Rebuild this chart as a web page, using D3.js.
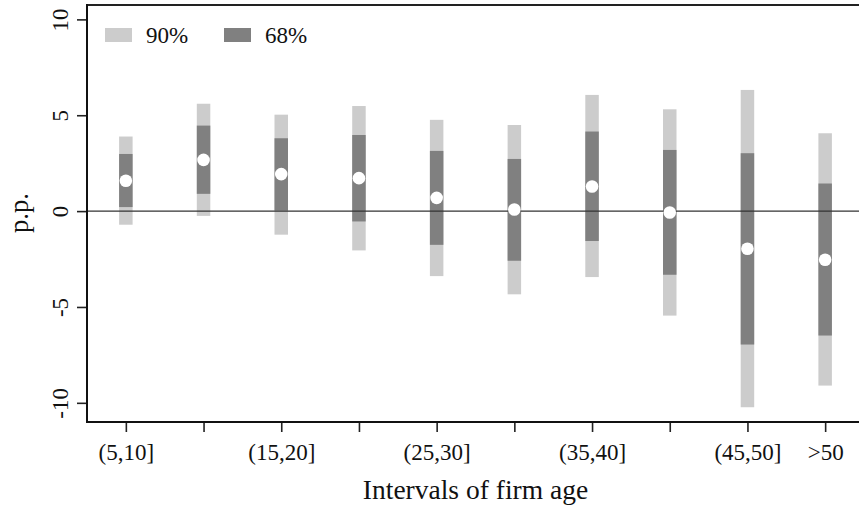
<!DOCTYPE html>
<html>
<head>
<meta charset="utf-8">
<script src="https://cdn.jsdelivr.net/npm/d3@7"></script>
<style>
	body { margin: 0; background: #fff; }
	svg text { font-family: "Liberation Serif", "Times New Roman", serif; fill: #111; }
</style>
</head>
<body>
<div id="chart"></div>
<script>
// categories and tick labels (only every other bin is labelled, plus the last)
const categories = ["(5,10]", "(10,15]", "(15,20]", "(20,25]", "(25,30]", "(30,35]", "(35,40]", "(40,45]", "(45,50]", ">50"];
const tickLabels = ["(5,10]", "", "(15,20]", "", "(25,30]", "", "(35,40]", "", "(45,50]", ">50"];

// point estimates and bands, in p.p.
const estimate = [1.58, 2.67, 1.93, 1.72, 0.69, 0.08, 1.28, -0.07, -1.96, -2.54];
const lo68 = [0.21, 0.90, 0.03, -0.54, -1.76, -2.59, -1.56, -3.32, -6.96, -6.49];
const hi68 = [2.98, 4.46, 3.80, 3.97, 3.14, 2.72, 4.15, 3.19, 3.02, 1.44];
const lo90 = [-0.71, -0.25, -1.23, -2.05, -3.39, -4.34, -3.44, -5.45, -10.23, -9.10];
const hi90 = [3.89, 5.60, 5.03, 5.48, 4.76, 4.49, 6.06, 5.31, 6.32, 4.06];

const yTicks = [-10, -5, 0, 5, 10];
const legendItems = ["90%", "68%"];

const width = 859;
const height = 508;
const plotLeft = 87, plotTop = 5, plotBottom = 422;

const light = "#cccccc";
const dark = "#808080";
const barW = 13.5;

const svg = d3
	.select("#chart")
	.append("svg")
	.attr("width", width)
	.attr("height", height);

const x = d3.scaleLinear().domain([0.5, 10.5]).range([plotLeft, 864]);
const y = d3.scaleLinear().domain([-11, 10.75]).range([plotBottom, plotTop]);

const rows = categories.map((c, i) => ({
	pos: i + 1,
	est: estimate[i],
	lo68: lo68[i],
	hi68: hi68[i],
	lo90: lo90[i],
	hi90: hi90[i],
}));

// 90% bands
svg.append("g")
	.selectAll("rect")
	.data(rows)
	.enter()
	.append("rect")
	.attr("x", (d) => x(d.pos) - barW / 2)
	.attr("width", barW)
	.attr("y", (d) => y(d.hi90))
	.attr("height", (d) => y(d.lo90) - y(d.hi90))
	.attr("fill", light);

// 68% bands
svg.append("g")
	.selectAll("rect")
	.data(rows)
	.enter()
	.append("rect")
	.attr("x", (d) => x(d.pos) - barW / 2)
	.attr("width", barW)
	.attr("y", (d) => y(d.hi68))
	.attr("height", (d) => y(d.lo68) - y(d.hi68))
	.attr("fill", dark);

// zero line
svg.append("line")
	.attr("x1", plotLeft)
	.attr("x2", width)
	.attr("y1", y(0))
	.attr("y2", y(0))
	.attr("stroke", "#333")
	.attr("stroke-width", 1.4);

// point estimates
svg.append("g")
	.selectAll("circle")
	.data(rows)
	.enter()
	.append("circle")
	.attr("cx", (d) => x(d.pos))
	.attr("cy", (d) => y(d.est))
	.attr("r", 6.3)
	.attr("fill", "#fff");

// frame: top border
svg.append("line")
	.attr("x1", plotLeft)
	.attr("x2", width)
	.attr("y1", plotTop)
	.attr("y2", plotTop)
	.attr("stroke", "#222")
	.attr("stroke-width", 2);

// y axis
const yAxis = d3
	.axisLeft(y)
	.tickValues(yTicks)
	.tickSize(10)
	.tickPadding(0)
	.tickFormat((d) => d);

const gy = svg
	.append("g")
	.attr("transform", `translate(${plotLeft},0)`)
	.call(yAxis);

gy.select(".domain").remove();
gy.selectAll(".tick line").attr("stroke", "#222").attr("stroke-width", 1.6);
gy.selectAll(".tick text")
	.attr("x", null)
	.attr("dy", null)
	.attr("transform", "translate(-19,0) rotate(-90)")
	.attr("text-anchor", "middle")
	.style("font-size", "23px");

svg.append("line")
	.attr("x1", plotLeft)
	.attr("x2", plotLeft)
	.attr("y1", plotTop - 1)
	.attr("y2", plotBottom + 1)
	.attr("stroke", "#111")
	.attr("stroke-width", 2);

// x axis
const xAxis = d3
	.axisBottom(x)
	.tickValues(rows.map((d) => d.pos))
	.tickSize(10)
	.tickPadding(0)
	.tickFormat((d, i) => tickLabels[i]);

const gx = svg
	.append("g")
	.attr("transform", `translate(0,${plotBottom})`)
	.call(xAxis);

gx.select(".domain").remove();
gx.selectAll(".tick line").attr("stroke", "#222").attr("stroke-width", 1.6);
gx.selectAll(".tick text")
	.attr("y", 38)
	.attr("dy", null)
	.style("font-size", "23px");

svg.append("line")
	.attr("x1", plotLeft - 1)
	.attr("x2", width)
	.attr("y1", plotBottom)
	.attr("y2", plotBottom)
	.attr("stroke", "#111")
	.attr("stroke-width", 2);

// axis titles
svg.append("text")
	.attr("x", (plotLeft + 864) / 2)
	.attr("y", 499)
	.attr("text-anchor", "middle")
	.style("font-size", "27.5px")
	.text("Intervals of firm age");

svg.append("text")
	.attr("transform", "translate(28,213) rotate(-90)")
	.attr("text-anchor", "middle")
	.style("font-size", "26.5px")
	.text("p.p.");

// legend
const legend = svg
	.append("g")
	.selectAll("g")
	.data(legendItems)
	.enter()
	.append("g")
	.attr("transform", (d, i) => `translate(${105 + i * 119},28)`);

legend
	.append("rect")
	.attr("width", 27)
	.attr("height", 14)
	.attr("fill", (d, i) => (i === 0 ? light : dark));

legend
	.append("text")
	.attr("x", 41)
	.attr("y", 15)
	.style("font-size", "23px")
	.text((d) => d);
</script>
</body>
</html>
